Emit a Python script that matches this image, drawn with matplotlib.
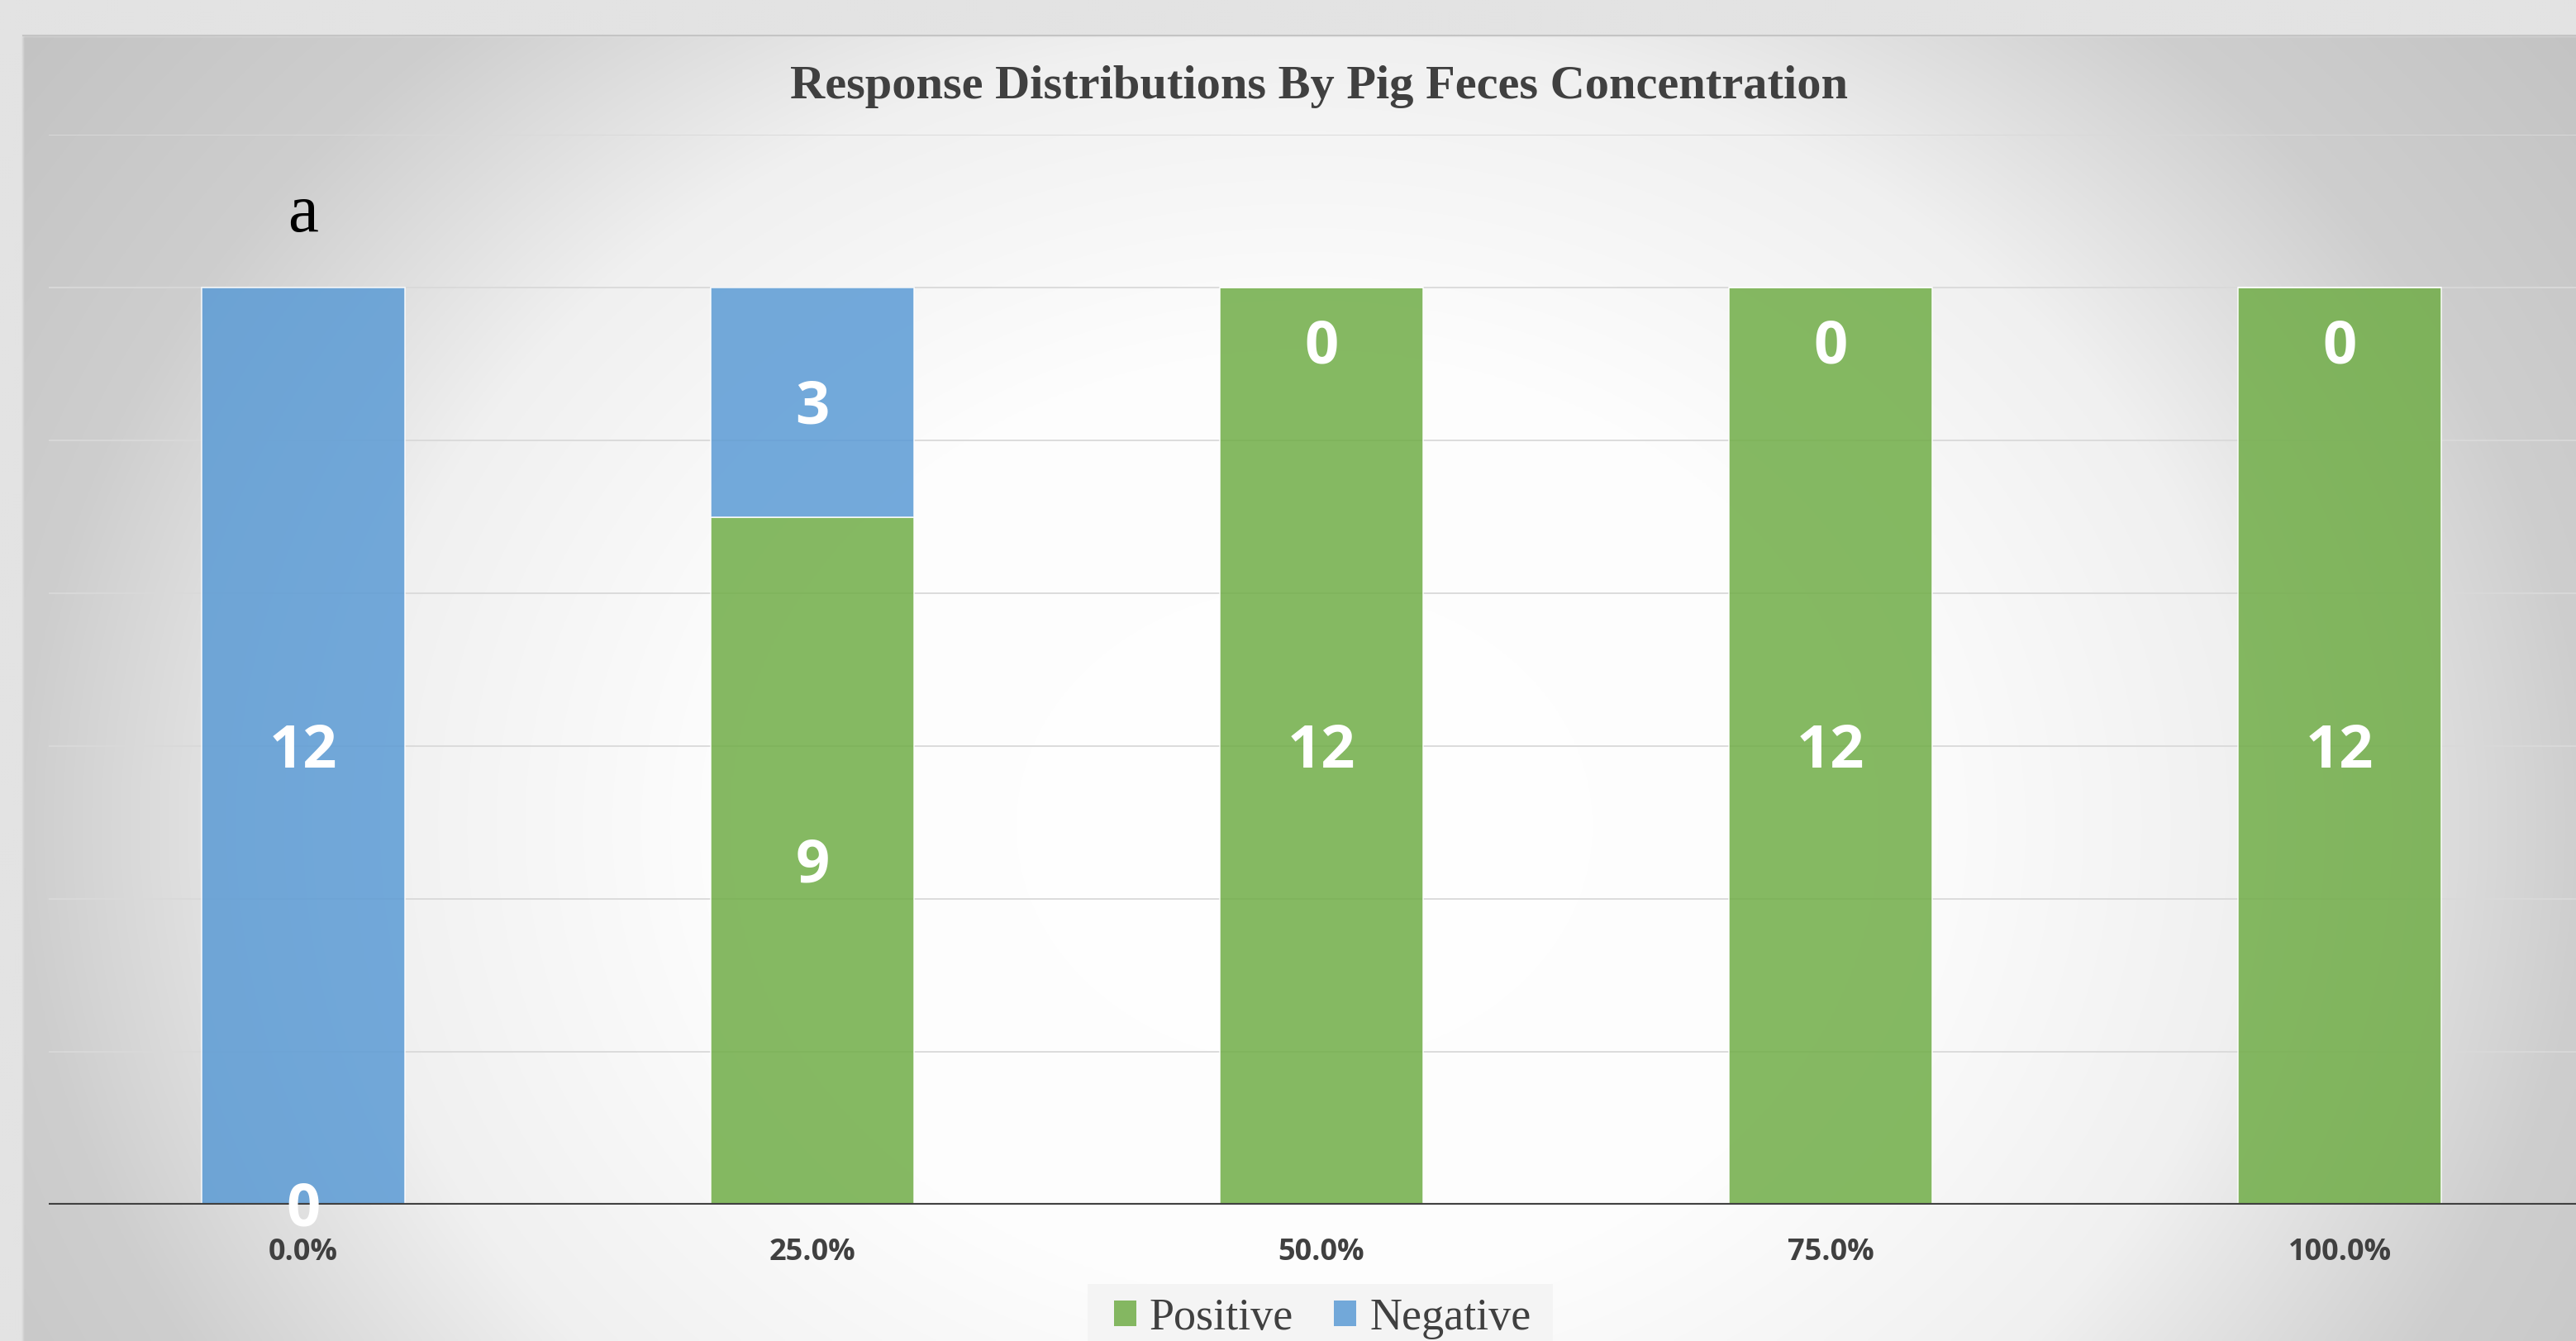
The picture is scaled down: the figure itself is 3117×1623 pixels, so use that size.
import numpy as np
import matplotlib
matplotlib.use("Agg")
import matplotlib.pyplot as plt
from matplotlib.patches import Rectangle, Patch

# ---------------- data ----------------
categories = ['0.0%', '25.0%', '50.0%', '75.0%', '100.0%']
positive = [0, 9, 12, 12, 12]
negative = [12, 3, 0, 0, 0]
series_names = ['Positive', 'Negative']
title = 'Response Distributions By Pig Feces Concentration'
panel_label = 'a'

W, H = 3117, 1623
DPI = 100
fig = plt.figure(figsize=(W / DPI, H / DPI), dpi=DPI)

SANS = 'Open Sans'

# ---------------- background (gradient) ----------------
bg = fig.add_axes([0, 0, 1, 1], zorder=0)
step = 4
xs = np.arange(0, W, step) + step / 2
ys = np.arange(0, H, step) + step / 2
X, Y = np.meshgrid(xs, ys)
cx, cy, rx, ry = 1580, 1000, 1550, 1285
r = np.sqrt(((X - cx) / rx) ** 2 + ((Y - cy) / ry) ** 2)
val = np.interp(r, [0, 0.45, 0.745, 1.0, 1.25, 1.5], [255, 253, 240, 206, 195, 190])
left_edge, top_edge = 28, 43
outer = (X < left_edge) | (Y < top_edge)
val = np.where(outer, 227, val)
img = np.dstack([val, val, val]) / 255.0
bg.imshow(img, extent=[0, W, H, 0], aspect='auto', interpolation='bilinear')
bg.plot([left_edge, W], [top_edge, top_edge], color='#c4c4c4', lw=1.5)
bg.add_patch(Rectangle((1316, 1554), 1879 - 1316, 80, facecolor='#f4f4f4', edgecolor='none', zorder=3))
bg.set_xlim(0, W)
bg.set_ylim(H, 0)
bg.axis('off')

# ---------------- main axes ----------------
ax_left = 59 / W
ax_right = 3139 / W
ax_bottom = (H - 1458) / H
ax_top = (H - 163) / H
ax = fig.add_axes([ax_left, ax_bottom, ax_right - ax_left, ax_top - ax_bottom], zorder=1)
ax.set_facecolor('none')

x = np.arange(len(categories))
green = '#70AD47'
blue = '#5B9BD5'
bw = 0.4
ax.bar(x, positive, width=bw, color=green, alpha=0.85, edgecolor='white', linewidth=1.2, zorder=2)
ax.bar(x, negative, width=bw, bottom=positive, color=blue, alpha=0.85, edgecolor='white', linewidth=1.2, zorder=2)

ax.set_xlim(-0.5, 4.5)
ax.set_ylim(0, 14)
ax.set_yticks(np.arange(0, 15, 2))
ax.yaxis.grid(True, color='#d9d9d9', lw=1.3, zorder=0)
ax.set_axisbelow(True)
for s in ax.spines.values():
    s.set_visible(False)
ax.tick_params(axis='y', length=0, labelleft=False)
ax.tick_params(axis='x', length=0, pad=29)
ax.set_xticks(x)
ax.set_xticklabels(categories, fontfamily=SANS, fontweight='bold', fontsize=26, color='#404040')
ax.axhline(0, color='#404040', lw=3.0, zorder=3)

# data labels
lab_kw = dict(ha='center', va='center', color='white', fontfamily=SANS, fontweight='bold', fontsize=52, zorder=4)
for i in range(len(categories)):
    p, n = positive[i], negative[i]
    ax.annotate(str(p), (x[i], p / 2), xytext=(0, -5), textcoords='offset points', **lab_kw)
    off = -52 if n == 0 else -5
    ax.annotate(str(n), (x[i], p + n / 2), xytext=(0, off), textcoords='offset points', **lab_kw)

# panel label
ax.text(0, 12.74, panel_label, ha='center', va='baseline', fontfamily='Liberation Serif', fontsize=60, color='black')

# title
fig.text(1596 / W, (H - 119) / H, title, ha='center', va='baseline', fontfamily='Liberation Serif',
         fontweight='bold', fontsize=42, color='#404040')

# legend
handles = [Patch(facecolor=green, alpha=0.85, edgecolor='none'), Patch(facecolor=blue, alpha=0.85, edgecolor='none')]
leg = fig.legend(handles, series_names, loc='lower center', bbox_to_anchor=(1600 / W, -0.022), ncol=2,
                 frameon=False, prop={'family': 'Liberation Serif', 'size': 39}, labelcolor='#404040',
                 handlelength=0.5, handleheight=0.5, handletextpad=0.3, columnspacing=0.9, borderpad=0.2)
leg.set_zorder(5)

fig.savefig('out.png', dpi=DPI)
